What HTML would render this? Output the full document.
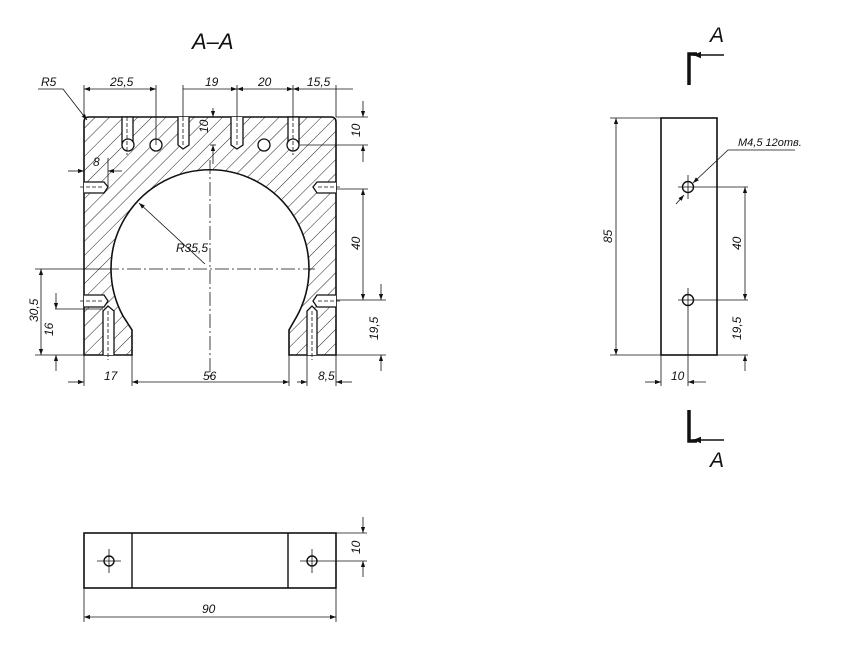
<!DOCTYPE html>
<html><head><meta charset="utf-8"><style>
html,body{margin:0;padding:0;background:#fff;}
svg{display:block;}
text{font-family:"Liberation Sans",sans-serif;font-style:italic;fill:#111;}
</style></head><body>
<svg width="866" height="650" viewBox="0 0 866 650" xmlns="http://www.w3.org/2000/svg">
<defs>
<pattern id="h" patternUnits="userSpaceOnUse" width="10" height="10" patternTransform="rotate(45)">
<line x1="0" y1="0" x2="0" y2="10" stroke="#222" stroke-width="1"/>
</pattern>
<marker id="a" viewBox="0 0 10 10" refX="10" refY="5" markerWidth="9" markerHeight="6" orient="auto-start-reverse" markerUnits="userSpaceOnUse">
<path d="M0,1.5 L10,5 L0,8.5 z" fill="#111"/>
</marker>
<marker id="b" viewBox="0 0 10 10" refX="10" refY="5" markerWidth="14" markerHeight="8" orient="auto-start-reverse" markerUnits="userSpaceOnUse">
<path d="M0,1 L10,5 L0,9 z" fill="#111"/>
</marker>
</defs>

<text x="192" y="49" font-size="22">A–A</text>

<!-- main section -->
<path d="M84,122 Q84,117 89,117 L331,117 Q336,117 336,122 L336,355 L289,355 L289,330 L297,316 A99,99 0 1 0 123,316 L132,330 L132,355 L84,355 Z" fill="url(#h)" stroke="#111" stroke-width="1.6"/>
<g fill="#fff" stroke="#111" stroke-width="1.3">
<rect x="122" y="117" width="11" height="28"/><circle cx="128" cy="145" r="6"/>
<circle cx="156" cy="145" r="6"/>
<path d="M178,117 L178,145 L183,149 L189,145 L189,117"/>
<path d="M231,117 L231,145 L237,149 L243,145 L243,117"/>
<circle cx="264" cy="145" r="6"/>
<rect x="288" y="117" width="11" height="28"/><circle cx="293" cy="145" r="6"/>
<path d="M84,182 L104,182 L108,187 L104,193 L84,193"/>
<path d="M336,182 L317,182 L313,187 L317,193 L336,193"/>
<path d="M84,295 L104,295 L108,301 L104,307 L84,307"/>
<path d="M336,295 L317,295 L313,301 L317,307 L336,307"/>
<path d="M103,355 L103,311 L108,306 L114,311 L114,355"/>
<path d="M307,355 L307,311 L312,306 L317,311 L317,355"/>
</g>
<g stroke="#111" stroke-width="0.8" stroke-dasharray="4,2">
<line x1="127" y1="117" x2="127" y2="155"/><line x1="183" y1="117" x2="183" y2="147"/>
<line x1="237" y1="117" x2="237" y2="147"/><line x1="293" y1="117" x2="293" y2="155"/>
<line x1="80" y1="187" x2="104" y2="187"/><line x1="318" y1="187" x2="340" y2="187"/>
<line x1="80" y1="301" x2="104" y2="301"/><line x1="318" y1="301" x2="340" y2="301"/>
<line x1="108" y1="311" x2="108" y2="360"/><line x1="312" y1="311" x2="312" y2="360"/>
</g>
<g stroke="#111" stroke-width="0.8" stroke-dasharray="14,3,2,3">
<line x1="210" y1="160" x2="210" y2="380"/>
<line x1="105" y1="269" x2="315" y2="269"/>
</g>
<g stroke="#111" stroke-width="0.8" fill="none">
<line x1="84" y1="85" x2="84" y2="117"/>
<line x1="156" y1="85" x2="156" y2="145"/>
<line x1="183" y1="85" x2="183" y2="117"/>
<line x1="237" y1="85" x2="237" y2="117"/>
<line x1="293" y1="85" x2="293" y2="117"/>
<line x1="336" y1="85" x2="336" y2="117"/>
<line x1="84" y1="89" x2="156" y2="89" marker-start="url(#a)" marker-end="url(#a)"/>
<line x1="183" y1="89" x2="237" y2="89" marker-end="url(#a)"/>
<line x1="237" y1="89" x2="293" y2="89" marker-start="url(#a)" marker-end="url(#a)"/>
<line x1="293" y1="89" x2="353" y2="89" marker-start="url(#a)"/>
<polyline points="38,89 63,89 87,120" marker-end="url(#a)"/>
<line x1="213" y1="108" x2="213" y2="117" marker-end="url(#a)"/>
<line x1="213" y1="164" x2="213" y2="145" marker-end="url(#a)"/>
<line x1="210" y1="145" x2="216" y2="145"/>
<line x1="336" y1="117" x2="368" y2="117"/>
<line x1="300" y1="145" x2="368" y2="145"/>
<line x1="363" y1="101" x2="363" y2="117" marker-end="url(#a)"/>
<line x1="363" y1="162" x2="363" y2="145" marker-end="url(#a)"/>
<line x1="336" y1="189" x2="368" y2="189"/>
<line x1="336" y1="300" x2="386" y2="300"/>
<line x1="363" y1="189" x2="363" y2="300" marker-start="url(#a)" marker-end="url(#a)"/>
<line x1="336" y1="355" x2="386" y2="355"/>
<line x1="381" y1="284" x2="381" y2="300" marker-end="url(#a)"/>
<line x1="381" y1="371" x2="381" y2="355" marker-end="url(#a)"/>
<line x1="108" y1="158" x2="108" y2="187"/>
<line x1="68" y1="171" x2="84" y2="171" marker-end="url(#a)"/>
<line x1="122" y1="171" x2="108" y2="171" marker-end="url(#a)"/>
<line x1="205" y1="264" x2="139" y2="203" marker-end="url(#a)"/>
<line x1="35" y1="269" x2="105" y2="269"/>
<line x1="35" y1="355" x2="84" y2="355"/>
<line x1="55" y1="309" x2="103" y2="309"/>
<line x1="41" y1="269" x2="41" y2="355" marker-start="url(#a)" marker-end="url(#a)"/>
<line x1="56" y1="293" x2="56" y2="309" marker-end="url(#a)"/>
<line x1="56" y1="371" x2="56" y2="355" marker-end="url(#a)"/>
<line x1="84" y1="355" x2="84" y2="386"/>
<line x1="132" y1="355" x2="132" y2="386"/>
<line x1="289" y1="355" x2="289" y2="386"/>
<line x1="307" y1="355" x2="307" y2="386"/>
<line x1="336" y1="355" x2="336" y2="386"/>
<line x1="68" y1="382" x2="84" y2="382" marker-end="url(#a)"/>
<line x1="132" y1="382" x2="289" y2="382" marker-start="url(#a)" marker-end="url(#a)"/>
<line x1="297" y1="382" x2="307" y2="382" marker-end="url(#a)"/>
<line x1="352" y1="382" x2="336" y2="382" marker-end="url(#a)"/>
</g>
<g font-size="12">
<text x="41" y="86">R5</text>
<text x="110" y="86">25,5</text>
<text x="205" y="86">19</text>
<text x="258" y="86">20</text>
<text x="307" y="86">15,5</text>
<text x="93" y="166">8</text>
<text x="176" y="252">R35,5</text>
<text x="104" y="380">17</text>
<text x="203" y="380">56</text>
<text x="318" y="380">8,5</text>
<text transform="translate(208,133) rotate(-90)">10</text>
<text transform="translate(360,137) rotate(-90)">10</text>
<text transform="translate(360,250) rotate(-90)">40</text>
<text transform="translate(378,340) rotate(-90)">19,5</text>
<text transform="translate(38,322) rotate(-90)">30,5</text>
<text transform="translate(53,336) rotate(-90)">16</text>
</g>

<!-- side view -->
<g stroke="#111" fill="none">
<rect x="661" y="118" width="56" height="237" stroke-width="1.6"/>
<line x1="610" y1="118" x2="661" y2="118" stroke-width="0.8"/>
<line x1="610" y1="355" x2="661" y2="355" stroke-width="0.8"/>
<circle cx="688" cy="187" r="5.5" stroke-width="1.4"/>
<circle cx="688" cy="300" r="5.5" stroke-width="1.4"/>
<g stroke-width="0.8">
<line x1="616" y1="118" x2="616" y2="355" marker-start="url(#a)" marker-end="url(#a)"/>
<line x1="688" y1="175" x2="688" y2="199"/>
<line x1="678" y1="187" x2="748" y2="187"/>
<line x1="688" y1="288" x2="688" y2="386"/>
<line x1="678" y1="300" x2="748" y2="300"/>
<line x1="717" y1="355" x2="748" y2="355"/>
<line x1="745" y1="187" x2="745" y2="300" marker-start="url(#a)" marker-end="url(#a)"/>
<line x1="745" y1="371" x2="745" y2="355" marker-end="url(#a)"/>
<polyline points="795,150 728,150 693,183" marker-end="url(#a)"/>
<line x1="676" y1="204" x2="684" y2="195" marker-end="url(#a)"/>
<line x1="661" y1="355" x2="661" y2="386"/>
<line x1="645" y1="382" x2="661" y2="382" marker-end="url(#a)"/>
<line x1="706" y1="382" x2="688" y2="382" marker-end="url(#a)"/>
</g>
<!-- section markers -->
<polyline points="689,85 689,54 697,54" stroke-width="3.5"/>
<line x1="724" y1="55" x2="693" y2="55" stroke-width="1.6" marker-end="url(#b)"/>
<polyline points="689,410 689,441 697,441" stroke-width="3.5"/>
<line x1="724" y1="440" x2="693" y2="440" stroke-width="1.6" marker-end="url(#b)"/>
</g>
<g font-size="12">
<text transform="translate(612,243) rotate(-90)">85</text>
<text transform="translate(741,250) rotate(-90)">40</text>
<text transform="translate(741,340) rotate(-90)">19,5</text>
<text x="738" y="146" font-size="11">M4,5 12отв.</text>
<text x="671" y="380">10</text>
</g>
<text x="710" y="42" font-size="21">A</text>
<text x="710" y="467" font-size="21">A</text>

<!-- bottom view -->
<g stroke="#111" fill="none">
<rect x="84" y="533" width="252" height="55" stroke-width="1.6"/>
<line x1="132" y1="533" x2="132" y2="588" stroke-width="1.4"/>
<line x1="288" y1="533" x2="288" y2="588" stroke-width="1.4"/>
<circle cx="109" cy="561" r="5" stroke-width="1.4"/>
<circle cx="312" cy="561" r="5" stroke-width="1.4"/>
<g stroke-width="0.8">
<line x1="97" y1="561" x2="121" y2="561"/><line x1="109" y1="549" x2="109" y2="573"/>
<line x1="300" y1="561" x2="367" y2="561"/><line x1="312" y1="549" x2="312" y2="573"/>
<line x1="336" y1="533" x2="367" y2="533"/>
<line x1="363" y1="517" x2="363" y2="533" marker-end="url(#a)"/>
<line x1="363" y1="577" x2="363" y2="561" marker-end="url(#a)"/>
<line x1="84" y1="588" x2="84" y2="622"/>
<line x1="336" y1="588" x2="336" y2="622"/>
<line x1="84" y1="617" x2="336" y2="617" marker-start="url(#a)" marker-end="url(#a)"/>
</g>
</g>
<text x="202" y="613" font-size="12">90</text>
<text transform="translate(360,554) rotate(-90)" font-size="12">10</text>
</svg>
</body></html>
